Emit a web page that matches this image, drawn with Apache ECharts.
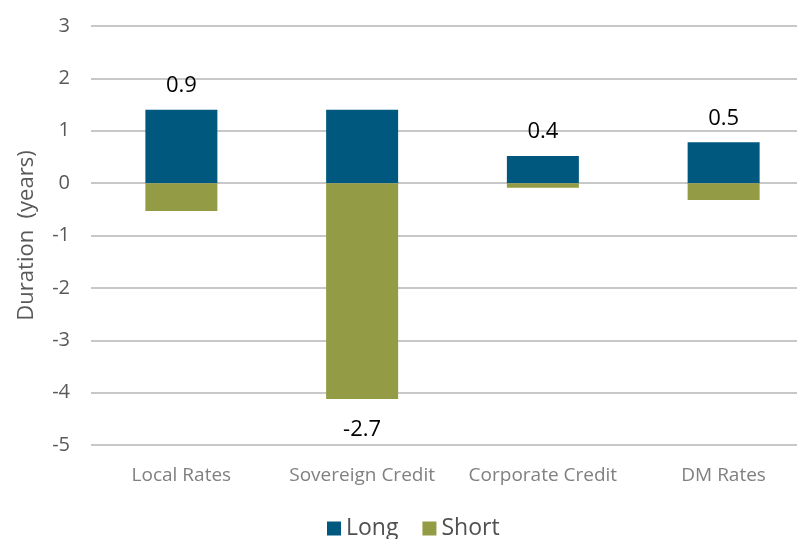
<!DOCTYPE html>
<html>
<head>
<meta charset="utf-8">
<script src="https://cdn.jsdelivr.net/npm/echarts@6/dist/echarts.min.js"></script>
<style>
  html, body { margin: 0; padding: 0; background: #fff; overflow: hidden; }
  /* plot runs past the right edge of the window, like the original */
  #chart { width: 816px; height: 539px; }
</style>
</head>
<body>
<div id="chart"></div>
<script>
const categories = ['Local Rates', 'Sovereign Credit', 'Corporate Credit', 'DM Rates'];
const longValues = [1.4, 1.4, 0.52, 0.78];
const shortValues = [-0.53, -4.12, -0.09, -0.32];
const netLabels = ['0.9', '-2.7', '0.4', '0.5'];
const yTicks = [-5, -4, -3, -2, -1, 0, 1, 2, 3];

const font = 'Open Sans';
const longColor = '#00587f';
const shortColor = '#939b44';

// net label sits on the long bar when positive, under the short bar when negative
const longData = longValues.map((v, i) => ({
  value: v,
  label: {
    show: parseFloat(netLabels[i]) >= 0,
    position: 'top',
    distance: 13,
    formatter: netLabels[i]
  }
}));
const shortData = shortValues.map((v, i) => ({
  value: v,
  label: {
    show: parseFloat(netLabels[i]) < 0,
    position: 'bottom',
    distance: 20,
    formatter: netLabels[i]
  }
}));

const chart = echarts.init(document.getElementById('chart'));
chart.setOption({
  animation: false,
  textStyle: { fontFamily: font },
  grid: { left: 91, top: 26, right: 2, bottom: 94, containLabel: false },
  legend: {
    top: 512,
    left: 322,
    itemWidth: 14,
    itemHeight: 14,
    itemGap: 24,
    icon: 'rect',
    textStyle: { fontSize: 23, color: '#505050', fontFamily: font },
    data: ['Long', 'Short']
  },
  xAxis: {
    type: 'category',
    data: categories,
    axisLine: { show: false },
    axisTick: { show: false },
    axisLabel: { interval: 0, fontSize: 19, color: '#808080', margin: 21, fontFamily: font }
  },
  yAxis: {
    type: 'value',
    min: yTicks[0],
    max: yTicks[yTicks.length - 1],
    interval: 1,
    name: 'Duration  (years)',
    nameLocation: 'middle',
    nameGap: 53,
    nameTextStyle: { fontSize: 22, color: '#595959', fontFamily: font },
    axisLine: { show: false },
    axisTick: { show: false },
    axisLabel: { fontSize: 20, color: '#595959', margin: 21, fontFamily: font },
    splitLine: { lineStyle: { color: '#c8c8c8', width: 2 } }
  },
  series: [
    {
      name: 'Long',
      type: 'bar',
      stack: 'dur',
      barWidth: 72,
      itemStyle: { color: longColor },
      label: { fontSize: 22, color: '#000', fontFamily: font },
      data: longData
    },
    {
      name: 'Short',
      type: 'bar',
      stack: 'dur',
      barWidth: 72,
      itemStyle: { color: shortColor },
      label: { fontSize: 22, color: '#000', fontFamily: font },
      data: shortData
    }
  ]
});
</script>
</body>
</html>
